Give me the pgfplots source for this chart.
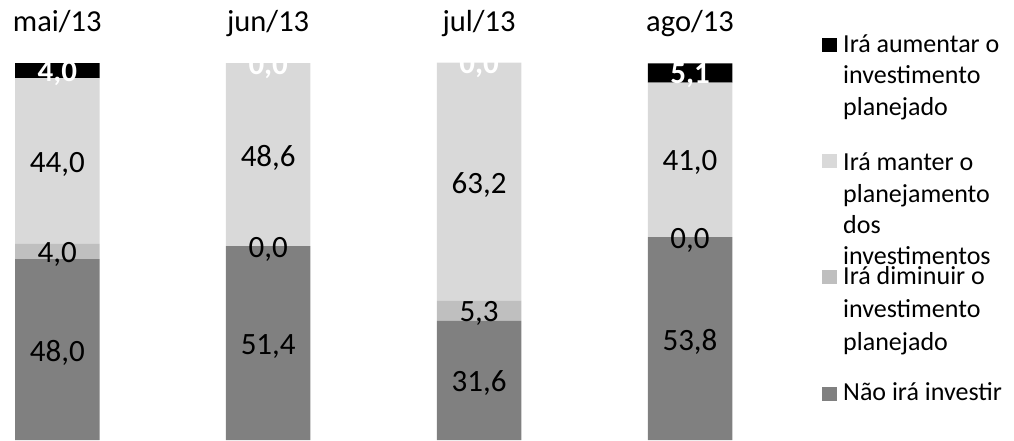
\documentclass[border=0pt]{standalone}
\usepackage{pgfplots}
\pgfplotsset{compat=1.18}
\usepackage{pgfplotstable}
\usepackage{fontspec}
\setmainfont{Carlito}

\definecolor{naoinv}{HTML}{808080}
\definecolor{diminui}{HTML}{BFBFBF}
\definecolor{mantem}{HTML}{D9D9D9}

% percentuais por mes (de baixo para cima)
\pgfplotstableread{
x nao dim man aum
0 48.0 4.0 44.0 4.0
1 51.4 0.0 48.6 0.0
2 31.6 5.3 63.2 0.0
3 53.8 0.0 41.0 5.1
}\dados

\def\rotfont{\fontsize{31bp}{37bp}\selectfont}
\def\legfont{\fontsize{26bp}{32bp}\selectfont}

\pgfplotsset{
  base/.style={
    at={(15bp,-440bp)}, anchor=south west,
    scale only axis,
    width=717.3bp, height=377bp,
    xmin=-0.2006, xmax=3.2006,
    ymin=0, ymax=100,
    clip=false,
  },
}
\tikzset{
  rot/.style={anchor=center, inner sep=0pt, yshift=-3bp, font=\rotfont, text=black},
  rotb/.style={anchor=center, inner sep=0pt, yshift=-3bp, font=\rotfont\bfseries, text=white},
}

\begin{document}
\begin{tikzpicture}
\path[use as bounding box] (0,0) rectangle (1014bp,-441bp);
\begin{axis}[base,
  ybar stacked, bar width=84.5bp,
  xtick={0,1,2,3},
  xticklabels={mai/13,jun/13,jul/13,ago/13},
  xticklabel pos=upper,
  x tick label style={anchor=base, yshift=32bp, inner sep=0pt, font=\fontsize{30.5bp}{36bp}\selectfont},
  ytick=\empty,
  axis line style={draw=none},
  major tick length=0pt,
  nodes near coords={\pgfmathprintnumber[assume math mode=true,fixed,fixed zerofill,precision=1,use comma]{\pgfplotspointmeta}},
  nodes near coords align=center,
]
\addplot[fill=naoinv, draw=none, point meta=\thisrow{nao}, every node near coord/.style=rot]
  table[x=x, y=nao] {\dados};
\addplot[fill=diminui, draw=none, point meta=\thisrow{dim}, every node near coord/.style=rot]
  table[x=x, y=dim] {\dados};
\addplot[fill=mantem, draw=none, point meta=\thisrow{man}, every node near coord/.style=rot]
  table[x=x, y=man] {\dados};
\addplot[fill=black, draw=none, point meta=\thisrow{aum}, every node near coord/.style=rotb]
  table[x=x, y=aum] {\dados};
\end{axis}

% rotulos das parcelas nulas (na divisa entre parcelas)
\begin{axis}[base, hide axis, point meta=explicit,
  nodes near coords={\pgfmathprintnumber[assume math mode=true,fixed,fixed zerofill,precision=1,use comma]{\pgfplotspointmeta}},
  nodes near coords align=center]
\addplot[draw=none, mark=none, every node near coord/.style=rot]
  coordinates {(1,51.4) [0] (3,53.8) [0]};
\addplot[draw=none, mark=none, every node near coord/.style=rotb]
  coordinates {(1,100) [0] (2,100.1) [0]};
\end{axis}

% legenda
\fill[black] (822bp,-52bp) rectangle (836.5bp,-38bp);
\node[anchor=base west, inner sep=0pt, font=\legfont] at (843bp,-52bp) {Irá aumentar o};
\node[anchor=base west, inner sep=0pt, font=\legfont] at (843bp,-83.5bp) {investimento};
\node[anchor=base west, inner sep=0pt, font=\legfont] at (843bp,-115bp) {planejado};

\fill[mantem] (822bp,-168bp) rectangle (836.5bp,-153.5bp);
\node[anchor=base west, inner sep=0pt, font=\legfont] at (843bp,-170bp) {Irá manter o};
\node[anchor=base west, inner sep=0pt, font=\legfont] at (843bp,-202bp) {planejamento};
\node[anchor=base west, inner sep=0pt, font=\legfont] at (843bp,-233bp) {dos};
\node[anchor=base west, inner sep=0pt, font=\legfont] at (843bp,-264bp) {investimentos};

\fill[diminui] (822bp,-284bp) rectangle (836.5bp,-270bp);
\node[anchor=base west, inner sep=0pt, font=\legfont] at (843bp,-284bp) {Irá diminuir o};
\node[anchor=base west, inner sep=0pt, font=\legfont] at (843bp,-317bp) {investimento};
\node[anchor=base west, inner sep=0pt, font=\legfont] at (843bp,-350bp) {planejado};

\fill[naoinv] (822bp,-401bp) rectangle (836.5bp,-387bp);
\node[anchor=base west, inner sep=0pt, font=\legfont] at (843bp,-400bp) {Não irá investir};
\end{tikzpicture}
\end{document}
